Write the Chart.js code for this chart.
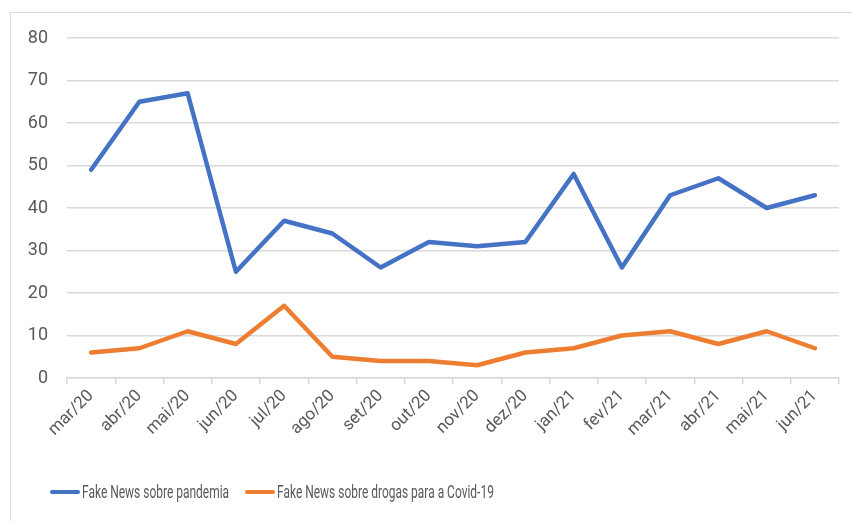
<!DOCTYPE html>
<html>
<head>
<meta charset="utf-8">
<script src="https://cdn.jsdelivr.net/npm/chart.js@4.4.0/dist/chart.umd.min.js"></script>
<style>
  html, body { margin: 0; padding: 0; background: #fff; }
  #wrap { position: relative; width: 852px; height: 521px; overflow: hidden; font-family: 'Roboto', sans-serif; }
  #moldura {
    position: absolute; left: 10px; top: 12px; width: 900px; height: 600px;
    border: 1px solid #d9d9d9; pointer-events: none;
  }
  canvas { position: absolute; left: 0; top: 0; }
  .legenda-item { position: absolute; top: 481px; height: 22px; }
  .legenda-linha { position: absolute; top: 9px; width: 30px; height: 4px; border-radius: 2px; }
  .legenda-texto {
    position: absolute; left: 32px; top: 0; white-space: nowrap;
    font-size: 18px; line-height: 22px; color: #595959;
    transform: scaleX(0.665); transform-origin: left center;
  }
</style>
</head>
<body>
<div id="wrap">
  <canvas id="grafico-fake-news" width="852" height="521"></canvas>
  <div id="legenda"></div>
  <div id="moldura"></div>
</div>
<script>
const meses = ['mar/20', 'abr/20', 'mai/20', 'jun/20', 'jul/20', 'ago/20', 'set/20', 'out/20',
  'nov/20', 'dez/20', 'jan/21', 'fev/21', 'mar/21', 'abr/21', 'mai/21', 'jun/21'];
const fakeNewsPandemia = [49, 65, 67, 25, 37, 34, 26, 32, 31, 32, 48, 26, 43, 47, 40, 43];
const fakeNewsDrogas = [6, 7, 11, 8, 17, 5, 4, 4, 3, 6, 7, 10, 11, 8, 11, 7];
const ticksY = [0, 10, 20, 30, 40, 50, 60, 70, 80];

const fonte = "'Roboto', sans-serif";
const corTexto = '#595959';
const corGrade = '#d9d9d9';

function serie(label, valores, cor) {
  return {
    label: label,
    data: valores,
    borderColor: cor,
    backgroundColor: cor,
    borderWidth: 4.5,
    borderJoinStyle: 'round',
    borderCapStyle: 'round',
    pointRadius: 0,
    tension: 0,
    fill: false,
  };
}

const config = {
  type: 'line',
  data: {
    labels: meses,
    datasets: [
      serie('Fake News sobre pandemia', fakeNewsPandemia, '#4472c4'),
      serie('Fake News sobre drogas para a Covid-19', fakeNewsDrogas, '#ed7d31'),
    ],
  },
  options: {
    responsive: false,
    animation: false,
    layout: {
      padding: { left: 0, top: 38, right: 13, bottom: 47 },
    },
    scales: {
      x: {
        offset: true,
        border: { display: true, color: corGrade, width: 1.5 },
        grid: {
          offset: true,
          drawOnChartArea: false,
          drawTicks: true,
          tickLength: 6,
          color: corGrade,
          lineWidth: 1.5,
        },
        ticks: {
          color: corTexto,
          font: { family: fonte, size: 17 },
          maxRotation: 45,
          minRotation: 45,
          padding: 2,
        },
        afterFit: (scale) => { scale.height = 96; },
      },
      y: {
        min: 0,
        max: 80,
        afterBuildTicks: (scale) => {
          scale.ticks = ticksY.map((v) => ({ value: v }));
        },
        border: { display: false },
        grid: { color: corGrade, lineWidth: 1.5, drawTicks: false },
        ticks: {
          color: corTexto,
          font: { family: fonte, size: 18 },
          padding: 19,
        },
        afterFit: (scale) => { scale.width = 67; },
      },
    },
    plugins: {
      legend: { display: false },
      tooltip: { enabled: false },
    },
  },
};

const grafico = new Chart(document.getElementById('grafico-fake-news').getContext('2d'), config);

// legenda em HTML, com o texto estreito
const posicoesLegenda = [50, 245];
const legenda = document.getElementById('legenda');
grafico.data.datasets.forEach((dataset, index) => {
  const item = document.createElement('div');
  item.className = 'legenda-item';
  item.style.left = posicoesLegenda[index] + 'px';
  item.innerHTML =
    `<div class="legenda-linha" style="background:${dataset.borderColor}"></div>` +
    `<div class="legenda-texto">${dataset.label}</div>`;
  legenda.appendChild(item);
});
</script>
</body>
</html>
